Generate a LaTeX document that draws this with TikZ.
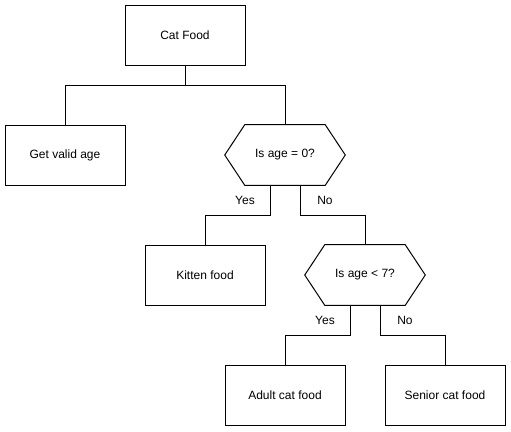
\documentclass[tikz,border=0pt]{standalone}
\usepackage{fontspec}
\setmainfont{Liberation Sans}
\usetikzlibrary{calc}
\begin{document}
\begin{tikzpicture}[x=0.75pt,y=-0.75pt,
  box/.style={draw,line width=0.75pt,minimum width=90pt,minimum height=45pt,inner sep=0pt,font=\fontsize{9}{11}\selectfont},
  hexbox/.style={minimum width=90pt,minimum height=45pt,inner sep=0pt,font=\fontsize{9}{11}\selectfont},
  conn/.style={line width=0.75pt},
  lbl/.style={font=\fontsize{9}{11}\selectfont,inner sep=1pt}]
\useasboundingbox (0,0) rectangle (511,432);
\node[box] (cat) at (185,35) {Cat Food};
\node[box] (getage) at (65,155) {Get valid age};
\node[hexbox] (hex1) at (285,155) {Is age = 0?};
\node[box] (kitten) at (205,275) {Kitten food};
\node[hexbox] (hex2) at (365,275) {Is age < 7?};
\node[box] (adult) at (285,395) {Adult cat food};
\node[box] (senior) at (445,395) {Senior cat food};
\foreach \h in {hex1,hex2}{
  \draw[conn,line join=miter] ($(\h.north west)+(20,0)$) -- ($(\h.north east)+(-20,0)$) -- (\h.east) -- ($(\h.south east)+(-20,0)$) -- ($(\h.south west)+(20,0)$) -- (\h.west) -- cycle;
}
\draw[conn] (cat.south) -- +(0,20) -| (getage.north);
\draw[conn] (cat.south) -- +(0,20) -| (hex1.north);
\draw[conn] ($(hex1.south)+(-15,0)$) -- +(0,30) -| (kitten.north);
\draw[conn] ($(hex1.south)+(15,0)$) -- +(0,30) -| (hex2.north);
\draw[conn] ($(hex2.south)+(-15,0)$) -- +(0,30) -| (adult.north);
\draw[conn] ($(hex2.south)+(15,0)$) -- +(0,30) -| (senior.north);
\node[lbl] (y1) at (245,200) {Yes};
\node[lbl] (n1) at (325,200) {No};
\node[lbl] (y2) at (325,320) {Yes};
\node[lbl] (n2) at (405,320) {No};
\end{tikzpicture}
\end{document}
